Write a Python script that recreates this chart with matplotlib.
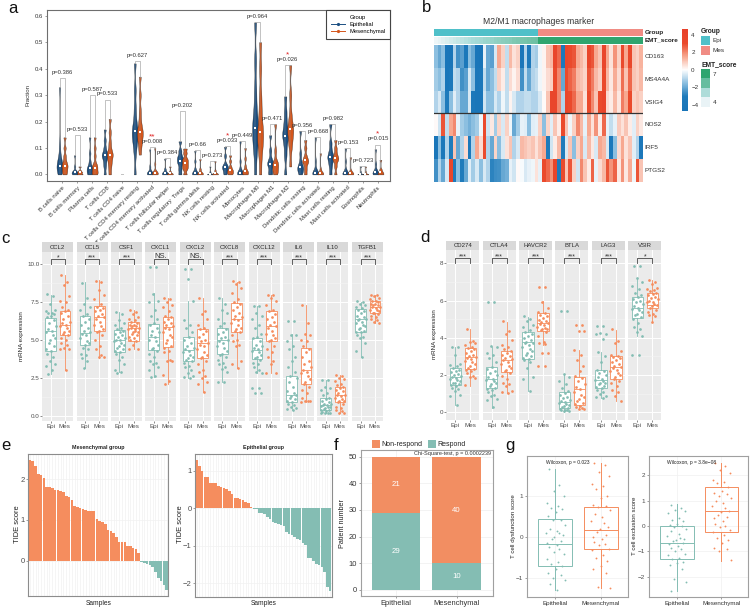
import numpy as np
import matplotlib
matplotlib.use("Agg")
import matplotlib.pyplot as plt
from matplotlib.colors import LinearSegmentedColormap, Normalize, ListedColormap
from matplotlib.lines import Line2D
from matplotlib.patches import Rectangle

plt.rcParams['font.family'] = ['Liberation Sans', 'DejaVu Sans']

W, H = 750, 609
TEAL = '#84bdb3'
ORANGE = '#f58d5e'

# ---- panel a data
cell_types = ['B cells naive', 'B cells memory', 'Plasma cells', 'T cells CD8', 'T cells CD4 naive',
              'T cells CD4 memory resting', 'T cells CD4 memory activated', 'T cells follicular helper',
              'T cells regulatory  Tregs', 'T cells gamma delta', 'NK cells resting', 'NK cells activated',
              'Monocytes', 'Macrophages M0', 'Macrophages M1', 'Macrophages M2', 'Dendritic cells resting',
              'Dendritic cells activated', 'Mast cells resting', 'Mast cells activated', 'Eosinophils', 'Neutrophils']
a_epi = [[0, .01, .02, .03, .03, .04, .05, .07, .11, .33], [0, 0, .005, .008, .01, .015, .03, .072], [0, .005, .01, .02, .025, .03, .05, .08, .14],
         [0, .03, .05, .07, .07, .08, .1, .13, .17], [0, 0, 0, 0], [0, .08, .12, .14, .16, .17, .2, .25, .32, .42],
         [0, 0, .003, .005, .008, .012, .03, .095], [0, 0, .004, .006, .01, .02, .06], [0, .02, .04, .05, .06, .07, .09, .125],
         [0, 0, .003, .005, .01, .02, .05, .09], [0, 0, 0, 0, .002, .01, .03], [0, .01, .02, .027, .03, .04, .07, .105],
         [0, 0, .003, .005, .01, .02, .05, .125], [0, .08, .12, .15, .18, .2, .25, .32, .43, .575], [0, .01, .03, .04, .045, .06, .09, .148],
         [0, .07, .11, .14, .15, .17, .2, .24, .295], [0, .01, .02, .028, .03, .05, .08, .165], [0, 0, .003, .005, .01, .02, .05, .14],
         [0, .03, .05, .065, .07, .09, .12, .19], [0, 0, .003, .005, .01, .02, .05, .098], [0, 0, 0, 0, .001, .01, .03], [0, 0, .004, .008, .012, .02, .04, .095]]
a_mes = [[0, .01, .02, .033, .035, .05, .07, .1, .14], [0, 0, .004, .008, .01, .015, .03], [0, .005, .01, .025, .03, .04, .07, .1, .14],
         [0, .03, .05, .07, .075, .09, .12, .16, .21], [0, 0, 0, 0], [.075, .11, .13, .15, .16, .17, .2, .24, .3, .37],
         [0, 0, .003, .005, .008, .012, .04, .1], [0, 0, .002, .004, .006, .012, .03], [0, .02, .03, .04, .05, .06, .08, .098],
         [0, 0, .003, .005, .01, .02, .058], [0, 0, 0, .002, .005, .015, .05], [0, .005, .01, .015, .02, .03, .05, .072],
         [0, .002, .006, .012, .015, .03, .06, .1], [0, .07, .11, .14, .16, .19, .24, .3, .4, .5], [0, .01, .02, .035, .04, .05, .09, .19],
         [.03, .1, .13, .16, .17, .19, .23, .3, .413], [0, .02, .04, .05, .055, .07, .1, .13], [0, 0, .003, .005, .008, .02, .08],
         [0, .03, .05, .06, .065, .08, .1, .13], [0, 0, .003, .005, .008, .015, .065], [0, 0, 0, 0, .002, .01, .03], [0, 0, .004, .008, .012, .02, .055]]
a_med_epi = [.032, .008, .025, .072, 0, .163, .005, .005, .052, .005, .002, .027, .005, .175, .04, .145, .028, .005, .065, .005, .001, .008]
a_med_mes = [.033, .008, .025, .072, 0, .16, .005, .005, .042, .005, .005, .015, .012, .16, .035, .17, .055, .005, .062, .005, .002, .008]
a_bracket = [.365, .15, .30, .283, .002, .428, .102, .062, .24, .092, .05, .106, .125, .575, .19, .413, .165, .14, .19, .098, .03, .113]
a_pvals = ['p=0.386', 'p=0.533', 'p=0.587', 'p=0.533', '', 'p=0.627', 'p=0.008', 'p=0.384', 'p=0.202', 'p=0.66', 'p=0.273', 'p=0.033',
           'p=0.449', 'p=0.964', 'p=0.471', 'p=0.026', 'p=0.356', 'p=0.668', 'p=0.982', 'p=0.153', 'p=0.723', 'p=0.015']
a_stars = ['', '', '', '', '', '', '**', '', '', '', '', '*', '', '', '', '*', '', '', '', '', '', '*']

# ---- panel b data
heat_genes = ['CD163', 'MS4A4A', 'VSIG4', 'NOS2', 'IRF5', 'PTGS2']
heat_cd163 = [-1.5, -2, -1.5, -4, -4.3, -1, -2.5, -2.2, -3.5, -1.5, -2, -4, -4.3, -.3, -2, -2.2, -.5, 1.5, .8, -.8, 1.2, .5, .8, -4, -1, -3.5, -1, -1.2,
              -.2, .2, 1, 1.2, 3.5, 2.5, -3.5, 3.5, 3, 2.8, 1.5, 1.2, .8, 3.5, 2.8, 1.5, 1, 3.8, 1.5, .5, 1.8, .8, 3, 1.5, 3.2, 1, .8, 1.3]
heat_ms4a4a = [-1.2, -1.5, -1, -4, -3.5, -.8, -1, -2.5, -2.2, -.5, -1.5, -3.8, -3.5, -.8, -2, -1.5, -.8, .8, .3, -.8, .6, .2, .6, -2.5, -.8, -2, -1, -.8,
               -.2, .2, .6, .8, 3, 2, -2, 3, 2.6, 2.2, 1.2, 1, .7, 2.8, 2.2, 1.2, .8, 3, 1.2, .4, 1.4, .6, 2.4, 1, 2.5, 1, .8, 1.2]
heat_vsig4 = [-1, -.5, -1.5, -3, -1.5, -.4, -1, -2, -2, -.5, -3.5, -4, -4, -.6, -1.5, -1.5, -.5, -1, -.2, -.8, .2, -.5, -1, -1, -.8, -.8, -1, -1,
              -.5, .1, 1, 3.5, 3.5, 2, -1, 3.5, 3, 2.5, 1.5, 1.5, .5, 3, 2, 1, 3, 3.8, .6, .3, 1.2, .4, 2.2, 1.5, 3, .8, 1, .8]
heat_nos2 = [.1, -.6, 2.8, -.8, 1.5, 2, -.3, -1.2, -1.5, -1.8, -1.5, -1.2, -.2, 3, -.6, .4, -1.2, .7, -.5, .8, -.2, -2, -1.2, -.3, -.4, -1.5, -.4, -.3,
             .8, -1.5, .7, -.4, 1, .3, 3, 1, -.2, .8, 2, 1.2, -.3, 1.5, .5, 1.8, .3, 2.5, -.3, -.8, -.3, .9, .5, 1, .3, -.4, .8, .4]
heat_irf5 = [-4, -1.5, -3.5, -1, -3, 1, -2, -1, .6, -3.5, -1, 1.5, .6, 3, -1, -2, .7, -1.5, -.5, .5, 1, -1, -.5, 1.2, 1, .8, 1, .5,
             1, 1.5, -3, -.6, .3, 1.2, -3, -.5, 1, -1.5, .8, 1.5, -.5, 1.2, .4, -.5, 1.5, 1.2, -.5, -3.5, -1.5, .6, 1.5, .5, 1, -.4, -1, -3.5]
heat_ptgs2 = [-2.5, -1, -2, -.5, 3.5, -3, -1.5, -3, -2, -.4, -1.2, -.5, -1.5, -.5, -1, -2.8, -2.6, -2.5, -2, -1.8, -.3, -.6, .1, -.1, -.5, -.3, -.2, .5,
              -.3, 3, 2.5, 1.8, 3.5, -3, 3, 1, 2.8, .8, -.6, 2, 1, .3, 2.6, -.3, .6, 1.2, 2.8, 1.8, 2.6, .4, 1.8, .4, 1.4, -.2, 2.8, 1]
emt_score = [4, 4.1, 4.2, 4.3, 4.4, 4.5, 4.6, 4.7, 4.8, 4.9, 5, 5.05, 5.1, 5.2, 5.25, 5.3, 5.4, 5.45, 5.5, 5.55, 5.6, 5.7, 5.75, 5.8, 5.85, 5.9, 5.95, 6,
             7, 7, 7, 7, 7, 7, 7, 7, 7, 7, 7, 7, 7, 7, 7, 7, 7, 7, 7, 7, 7, 7, 7, 7, 7, 7, 7, 7]
group_code = [0] * 28 + [1] * 28

# ---- panel c data: box stats are low whisker, q1, median, q3, high whisker
c_genes = ['CCL2', 'CCL5', 'CSF1', 'CXCL1', 'CXCL2', 'CXCL8', 'CXCL12', 'IL6', 'IL10', 'TGFB1']
c_sig = ['*', '***', '***', 'NS.', 'NS.', '***', '***', '***', '***', '***']
c_box_epi = [[2.75, 4.27, 5.6, 6.43, 8.0], [3.13, 4.67, 5.44, 6.58, 8.8], [2.9, 4.23, 5.0, 5.66, 6.83], [2.58, 4.34, 5.2, 6.06, 8.08], [2.5, 3.6, 4.34, 5.18, 7.6],
             [2.2, 4.05, 5.0, 5.77, 7.75], [2.84, 3.74, 4.34, 5.15, 7.25], [.37, .93, 1.37, 2.64, 5.37], [.15, .37, .7, 1.15, 2.35], [3.85, 5.55, 6.39, 7.05, 7.53]]
c_box_mes = [[3.0, 5.33, 6.0, 6.9, 9.3], [3.83, 5.6, 6.54, 7.25, 8.96], [4.4, 4.93, 5.77, 6.2, 7.0], [2.07, 4.56, 5.88, 6.54, 7.8], [1.54, 3.83, 4.78, 5.73, 7.75],
             [3.13, 5.5, 6.39, 7.42, 8.85], [2.84, 4.96, 5.95, 6.9, 8.0], [.93, 2.07, 3.0, 4.45, 7.3], [.15, .93, 1.37, 1.9, 2.7], [6.15, 6.76, 7.2, 7.58, 8.0]]
c_pts_epi = [
    [8.05, 7.9, 7.4, 7.0, 6.9, 6.8, 6.8, 6.7, 6.6, 6.5, 6.3, 6.1, 5.9, 5.7, 5.6, 5.5, 5.3, 5.1, 5.0, 4.8, 4.6, 4.4, 4.3, 4.1, 3.9, 3.6, 3.4, 3.3, 3.0, 2.75],
    [8.75, 7.75, 7.4, 7.2, 7.0, 6.7, 6.6, 6.4, 6.2, 6.0, 5.8, 5.6, 5.5, 5.4, 5.3, 5.1, 4.9, 4.8, 4.7, 4.5, 4.4, 4.1, 4.0, 3.8, 3.6, 3.15],
    [6.85, 6.7, 6.3, 6.1, 6.0, 5.8, 5.7, 5.6, 5.5, 5.4, 5.3, 5.2, 5.1, 5.0, 5.0, 4.9, 4.8, 4.7, 4.6, 4.5, 4.4, 4.3, 4.2, 4.1, 3.9, 3.7, 3.4, 3.0, 2.9, 2.85],
    [9.8, 9.8, 8.05, 7.6, 7.5, 7.0, 6.6, 6.4, 6.1, 6.0, 5.8, 5.6, 5.5, 5.3, 5.2, 5.0, 4.9, 4.7, 4.5, 4.4, 4.3, 4.1, 3.9, 3.6, 3.5, 3.4, 3.2, 3.0, 2.6, 2.55],
    [9.7, 9.7, 9.0, 7.6, 6.3, 6.0, 5.8, 5.5, 5.2, 5.0, 4.8, 4.6, 4.5, 4.4, 4.3, 4.2, 4.0, 3.9, 3.8, 3.7, 3.6, 3.5, 3.3, 3.2, 3.0, 2.8, 2.6, 2.55, 2.5],
    [7.75, 7.4, 7.0, 6.8, 6.4, 6.1, 5.9, 5.7, 5.5, 5.4, 5.2, 5.1, 5.0, 4.9, 4.8, 4.6, 4.5, 4.3, 4.1, 4.0, 3.9, 3.7, 3.5, 3.4, 3.2, 3.1, 2.9, 2.2, 2.2],
    [7.25, 7.25, 6.8, 6.6, 6.4, 6.0, 5.8, 5.4, 5.2, 5.1, 4.9, 4.7, 4.6, 4.5, 4.4, 4.3, 4.2, 4.0, 3.9, 3.8, 3.7, 3.5, 3.4, 3.2, 3.0, 2.9, 2.85, 1.8, 1.8, 1.5, 1.5],
    [6.25, 6.25, 5.35, 5.35, 4.9, 4.6, 4.4, 3.9, 3.6, 3.2, 2.9, 2.6, 2.5, 2.2, 1.9, 1.6, 1.5, 1.4, 1.3, 1.2, 1.1, 1.0, .9, .8, .7, .6, .5, .45, .4],
    [2.35, 2.35, 1.9, 1.8, 1.7, 1.5, 1.4, 1.2, 1.1, 1.0, .9, .8, .75, .7, .7, .65, .6, .55, .5, .45, .4, .35, .3, .25, .2, .2, .15, .15],
    [7.6, 7.5, 7.4, 7.3, 7.2, 7.1, 7.0, 6.9, 6.8, 6.6, 6.5, 6.4, 6.4, 6.3, 6.2, 6.1, 6.0, 5.9, 5.8, 5.7, 5.6, 5.5, 5.5, 5.3, 5.2, 5.1, 4.8, 4.3, 3.85]]
c_pts_mes = [
    [9.3, 8.8, 8.6, 7.9, 7.6, 7.5, 7.2, 7.0, 6.9, 6.8, 6.6, 6.4, 6.2, 6.1, 6.0, 5.9, 5.8, 5.6, 5.5, 5.4, 5.3, 5.1, 5.0, 4.8, 4.7, 4.5, 4.4, 4.4, 3.05],
    [8.9, 8.85, 8.3, 8.0, 7.7, 7.4, 7.2, 7.1, 7.0, 6.9, 6.7, 6.6, 6.5, 6.4, 6.2, 6.0, 5.9, 5.7, 5.6, 5.5, 5.3, 5.0, 4.6, 4.4, 4.0, 3.9, 3.85],
    [7.0, 6.85, 6.7, 6.5, 6.4, 6.3, 6.2, 6.1, 6.0, 6.0, 5.9, 5.9, 5.8, 5.8, 5.7, 5.7, 5.6, 5.5, 5.5, 5.4, 5.3, 5.2, 5.1, 5.0, 4.9, 4.7, 4.4, 4.4],
    [7.8, 7.7, 7.5, 7.3, 7.2, 6.9, 6.6, 6.5, 6.4, 6.2, 6.1, 6.0, 5.9, 5.8, 5.7, 5.5, 5.3, 5.2, 5.0, 4.8, 4.6, 4.5, 4.3, 4.2, 3.7, 3.6, 3.6, 2.7, 2.3, 2.1],
    [7.75, 6.9, 6.7, 6.4, 6.0, 5.8, 5.7, 5.6, 5.4, 5.2, 5.0, 4.9, 4.8, 4.7, 4.6, 4.4, 4.2, 4.0, 3.9, 3.8, 3.6, 3.4, 3.0, 2.9, 2.6, 2.5, 2.2, 2.1, 1.55],
    [8.9, 8.8, 8.7, 8.4, 8.1, 7.7, 7.5, 7.4, 7.2, 7.0, 6.8, 6.6, 6.5, 6.4, 6.3, 6.1, 6.0, 5.8, 5.7, 5.6, 5.5, 5.3, 5.0, 4.9, 4.7, 4.6, 3.6, 3.4, 3.15],
    [8.0, 8.0, 7.8, 7.6, 7.3, 7.0, 6.9, 6.7, 6.5, 6.4, 6.2, 6.0, 5.9, 5.8, 5.6, 5.4, 5.3, 5.1, 5.0, 4.9, 4.6, 4.4, 4.2, 3.9, 3.6, 3.4, 2.85, 2.85],
    [7.3, 6.1, 5.4, 5.3, 5.0, 4.9, 4.6, 4.4, 4.2, 3.9, 3.6, 3.4, 3.2, 3.0, 2.9, 2.8, 2.6, 2.4, 2.2, 2.1, 1.9, 1.7, 1.5, 1.2, 1.0, .95, .95, .9],
    [2.7, 2.65, 2.5, 2.4, 2.3, 2.1, 2.0, 1.9, 1.8, 1.7, 1.6, 1.5, 1.4, 1.35, 1.3, 1.2, 1.1, 1.0, .95, .9, .8, .6, .5, .4, .3, .2, .15],
    [8.0, 7.95, 7.9, 7.8, 7.7, 7.6, 7.6, 7.5, 7.4, 7.4, 7.3, 7.3, 7.2, 7.2, 7.1, 7.0, 7.0, 6.9, 6.8, 6.8, 6.7, 6.6, 6.5, 6.4, 6.3, 6.2, 6.15]]

# ---- panel d data
d_genes = ['CD274', 'CTLA4', 'HAVCR2', 'BTLA', 'LAG3', 'VSIR']
d_sig = ['***', '***', '***', '***', '***', '*']
d_box_epi = [[.39, 1.47, 1.91, 2.4, 3.52], [.25, 1.29, 1.79, 2.45, 3.52], [1.16, 2.84, 3.76, 4.33, 5.13], [.04, .25, .57, 1.11, 2.04], [.75, 1.32, 1.74, 2.27, 3.26], [4.11, 5.04, 5.62, 6.21, 7.19]]
d_box_mes = [[1.43, 2.33, 2.99, 3.43, 4.5], [1.02, 2.18, 2.81, 3.29, 4.87], [3.61, 4.38, 4.78, 5.31, 5.98], [.18, .39, 1.25, 1.91, 3.35], [.61, 1.79, 2.45, 3.02, 4.42], [4.87, 5.58, 5.76, 6.39, 7.1]]
d_pts_epi = [
    [3.5, 3.5, 3.1, 2.6, 2.55, 2.5, 2.4, 2.3, 2.2, 2.15, 2.05, 2, 1.95, 1.9, 1.85, 1.8, 1.75, 1.7, 1.6, 1.55, 1.5, 1.45, 1.4, 1.3, 1.25, 1.15, .95, .9, .4],
    [5.9, 5.9, 3.55, 3.5, 3.2, 3.1, 2.9, 2.7, 2.45, 2.35, 2.2, 2.1, 2, 1.9, 1.8, 1.75, 1.7, 1.6, 1.5, 1.4, 1.3, 1.25, 1.2, 1.1, .95, .9, .7, .65, .3],
    [5.15, 5.0, 4.9, 4.7, 4.6, 4.4, 4.3, 4.2, 4.1, 4, 3.9, 3.8, 3.75, 3.7, 3.6, 3.5, 3.4, 3.3, 3.2, 3.1, 3, 2.9, 2.85, 2.8, 2.7, 2.4, 1.9, 1.8, 1.15],
    [5.45, 5.45, 2.05, 1.9, 1.7, 1.5, 1.3, 1.15, 1.05, .95, .85, .75, .65, .6, .55, .5, .45, .4, .35, .3, .25, .2, .15, .12, .1, .08, .05],
    [4.63, 4.62, 4.25, 4.22, 4.2, 3.95, 3.25, 3.0, 2.7, 2.3, 2.2, 2.1, 2, 1.9, 1.8, 1.75, 1.7, 1.6, 1.55, 1.5, 1.4, 1.35, 1.3, 1.2, 1.1, 1, .9, .85, .75],
    [7.85, 7.85, 7.2, 7, 6.8, 6.6, 6.4, 6.3, 6.2, 6.1, 6, 5.9, 5.8, 5.7, 5.6, 5.55, 5.5, 5.4, 5.3, 5.2, 5.1, 5, 4.8, 4.6, 4.5, 4.3, 4.1, 3.08, 3.08]]
d_pts_mes = [
    [4.45, 3.85, 3.8, 3.7, 3.6, 3.5, 3.45, 3.4, 3.3, 3.2, 3.1, 3, 2.95, 2.9, 2.85, 2.75, 2.7, 2.6, 2.5, 2.4, 2.35, 2.3, 2.2, 2.1, 1.95, 1.9, 1.85, 1.45],
    [4.9, 4.35, 4.2, 3.9, 3.6, 3.5, 3.4, 3.3, 3.2, 3.1, 3, 2.9, 2.85, 2.8, 2.7, 2.6, 2.5, 2.4, 2.3, 2.2, 2.1, 1.95, 1.8, 1.6, 1.5, 1.4, 1.15, 1.1, 1.05],
    [6.75, 6.75, 5.95, 5.6, 5.4, 5.35, 5.25, 5.15, 5.05, 4.95, 4.9, 4.85, 4.8, 4.75, 4.7, 4.6, 4.55, 4.5, 4.45, 4.4, 4.3, 4.1, 3.8, 3.7, 3.65, 3.2, 3.2, 2.5, 2.5],
    [4.7, 4.68, 4.38, 4.36, 3.35, 3.1, 2.8, 2.5, 2.2, 1.95, 1.85, 1.7, 1.5, 1.35, 1.25, 1.1, .95, .85, .7, .6, .5, .45, .35, .3, .25, .2, .18],
    [4.45, 3.85, 3.7, 3.3, 3.1, 3, 2.95, 2.9, 2.8, 2.7, 2.6, 2.5, 2.45, 2.4, 2.3, 2.2, 2.1, 2, 1.9, 1.8, 1.7, 1.55, 1.4, 1.2, 1.1, .9, .6],
    [7.1, 7, 6.9, 6.7, 6.6, 6.55, 6.5, 6.4, 6.35, 6.3, 6.2, 6.15, 6.1, 6, 5.95, 5.9, 5.8, 5.75, 5.7, 5.6, 5.5, 5.4, 5.3, 5.2, 5.15, 4.85]]

# ---- panel e data
tide_mes = [2.48, 2.46, 2.33, 2.13, 2.11, 2.02, 1.81, 1.80, 1.78, 1.73, 1.73, 1.72, 1.69, 1.58, 1.56, 1.49, 1.35, 1.31, 1.30, 1.27, 1.24, 1.23, 1.22, 1.21, 1.02,
            0.98, 0.95, 0.91, 0.75, 0.73, 0.68, 0.58, 0.47, 0.47, 0.46, 0.36, 0.35, 0.31, 0.28, 0.18, -.02, -.05, -.07, -.11, -.16, -.28, -.42, -.50, -.60, -.73]
tide_epi = [1.28, 1.13, .98, .84, .83, .67, .67, .67, .59, .57, .53, .50, .46, .38, .28, .28, .25, .22, .16, .15, .03,
            -.01, -.02, -.12, -.13, -.15, -.23, -.30, -.36, -.40, -.42, -.46, -.48, -.63, -.68, -.72, -.78, -.82, -.85, -.92, -.98, -1.32, -1.33, -1.40, -1.48, -1.50, -1.57, -1.69, -2.10, -2.20]

# ---- panel f data
f_groups = ['Epithelial', 'Mesenchymal']
f_respond = [29, 10]
f_nonrespond = [21, 40]

# ---- panel g data
g_groups = ['Epithelial', 'Mesenchymal']
dys_box = [[-1.3, -.71, -.19, .43, 1.65], [-1.26, -.31, .16, .73, 1.8]]
exc_box = [[-2.55, -1.31, -.65, 0, .87], [-1.36, -.22, .59, 1.55, 2.5]]
dys_epi = [1.65, 1.28, 1.13, 1.0, .82, .75, .7, .67, .6, .5, .42, .4, .3, .2, .15, .1, .08, .05, 0, -.05, -.1, -.15, -.2, -.25, -.3, -.38, -.42, -.55, -.62, -.68, -.72, -.8, -.9, -.95, -1, -1.05, -1.15, -1.3]
dys_mes = [1.8, 1.75, 1.58, 1.5, 1.3, 1.25, 1.18, 1, .95, .78, .75, .72, .65, .55, .48, .38, .33, .25, .2, .12, .05, 0, -.05, -.12, -.18, -.2, -.3, -.32, -.45, -.52, -.6, -.72, -.8, -.9, -1.22, -1.25]
exc_epi = [.85, .7, .65, .6, .5, .3, .25, .2, .1, .05, 0, -.05, -.1, -.2, -.3, -.4, -.45, -.5, -.55, -.6, -.65, -.7, -.8, -.85, -.9, -1, -1.1, -1.15, -1.25, -1.3, -1.4, -1.45, -1.55, -1.7, -2.1, -2.2, -2.55]
exc_mes = [2.5, 2.35, 2.2, 2.1, 1.8, 1.75, 1.7, 1.55, 1.4, 1.3, 1.25, 1.2, 1.1, 1, .9, .8, .7, .6, .55, .45, .35, .3, .2, .1, 0, -.05, -.15, -.25, -.35, -.45, -.55, -.65, -.85, -.9, -1, -1.35]

# sideways spread of the dots, fixed so each run gives the same picture
JITTER = [-.62, .41, -.13, .83, -.88, .27, -.45, .66, .05, -.72, .52, -.28, .94, -.55, .18, -.95, .35, .74, -.09, -.36, .59, -.79, .12]


def panel(x0, y0, x1, y1):  # axes from pixel box, y measured from the top
    return fig.add_axes([x0 / W, 1 - y1 / H, (x1 - x0) / W, (y1 - y0) / H])


def ftext(x, y, s, **kw):
    kw.setdefault('va', 'center')
    fig.text(x / W, 1 - y / H, s, **kw)


def make_stats(box):
    return {'whislo': box[0], 'q1': box[1], 'med': box[2], 'q3': box[3], 'whishi': box[4], 'fliers': []}


def draw_box(ax, pos, box, pts, col, spread, dot, fill='white', lw=.6):
    ax.bxp([make_stats(box)], positions=[pos], widths=.75, patch_artist=True, showfliers=False, showcaps=False, manage_ticks=False,
           boxprops=dict(facecolor=fill, edgecolor=col, linewidth=lw), medianprops=dict(color=col, linewidth=lw),
           whiskerprops=dict(color=col, linewidth=lw), zorder=2)
    xs = [pos + JITTER[i % len(JITTER)] * spread for i in range(len(pts))]
    ax.scatter(xs, pts, s=dot, color=col, linewidths=0, zorder=3)


def facet_row(genes, sig, box_epi, box_mes, pts_epi, pts_mes, lefts, width, ytop, strip_h, ybot, ylim, yticks, ylabels, minor, br):
    for i, g in enumerate(genes):
        x0 = lefts[i]
        strip = panel(x0, ytop, x0 + width, ytop + strip_h)
        strip.set_facecolor('#d9d9d9')
        strip.set_xticks([])
        strip.set_yticks([])
        for s in strip.spines.values():
            s.set_visible(False)
        strip.text(.5, .5, g, transform=strip.transAxes, ha='center', va='center', fontsize=4.3, color='#2a2a2a')

        ax = panel(x0, ytop + strip_h, x0 + width, ybot)
        ax.set_facecolor('#ebebeb')
        for s in ax.spines.values():
            s.set_visible(False)
        ax.set_xlim(.4, 2.6)
        ax.set_ylim(*ylim)
        ax.set_axisbelow(True)
        ax.set_yticks(minor, minor=True)
        ax.grid(which='major', color='white', lw=.7)
        ax.grid(which='minor', axis='y', color='#f5f5f5', lw=.4)
        ax.tick_params(which='minor', length=0)
        draw_box(ax, 1, box_epi[i], pts_epi[i], TEAL, .39, 3.8)
        draw_box(ax, 2, box_mes[i], pts_mes[i], ORANGE, .39, 3.8)
        ax.plot([1, 1, 2, 2], [br[0], br[1], br[1], br[0]], color='#444444', lw=.6, zorder=4)
        if sig[i] == 'NS.':
            ax.text(1.5, br[1] - .004 * (ylim[1] - ylim[0]), sig[i], ha='center', va='bottom', fontsize=5.5, color='#333333')
        else:
            ax.text(1.5, br[1] - .012 * (ylim[1] - ylim[0]), sig[i], ha='center', va='bottom', fontsize=5, color='#333333')
        ax.set_xticks([1, 2])
        ax.set_xticklabels(['Epi', 'Mes'], fontsize=4.5, color='#4d4d4d')
        ax.set_yticks(yticks)
        if i == 0:
            ax.set_yticklabels(ylabels, fontsize=4.5, color='#4d4d4d')
            ax.tick_params(axis='y', length=1.3, width=.4, color='#333333', pad=.8)
        else:
            ax.set_yticklabels([])
            ax.tick_params(axis='y', length=0)
        ax.tick_params(axis='x', length=1.3, width=.4, color='#333333', pad=1.2)


def bw_axes(ax, col='#8c8c8c', lw=.8):
    for s in ax.spines.values():
        s.set_color(col)
        s.set_linewidth(lw)


fig = plt.figure(figsize=(W / 100, H / 100), dpi=100)

# panel letters
for s, x, y in [('a', 8, 13), ('b', 422, 12), ('c', 1, 243), ('d', 420, 242), ('e', 1, 450), ('f', 334, 450), ('g', 505, 450)]:
    ftext(x, y, s, fontsize=12, va='baseline', color='#111111')

# ---- a
ax = panel(47, 10, 390, 181)
ax.set_xlim(-1, 21.8)
ax.set_ylim(-.025, .622)
for side, vals, meds, col, off in [('epi', a_epi, a_med_epi, '#1b4f82', -.167), ('mes', a_mes, a_med_mes, '#d4561c', .167)]:
    pos = [i + off for i in range(len(cell_types))]
    for i, v in enumerate(vals):
        if max(v) == 0:
            continue
        parts = ax.violinplot([v], positions=[pos[i]], widths=.4, showextrema=False, bw_method=.22, points=120)
        for b in parts['bodies']:
            b.set_facecolor(col)
            b.set_edgecolor('#222222')
            b.set_linewidth(.25)
            b.set_alpha(1)
        ax.vlines(pos[i], min(v), max(v), color='#999999', lw=.3, zorder=1)
    ax.scatter(pos, meds, s=3, marker='s', color='white', linewidths=0, zorder=5)
for i, top in enumerate(a_bracket):
    ax.plot([i - .167, i - .167, i + .167, i + .167], [max(a_epi[i]), top, top, max(a_mes[i])], color='#a0a0a0', lw=.45, zorder=1)
    ax.text(i, top + .012, a_pvals[i], ha='center', va='bottom', fontsize=4.2, color='#333333', zorder=6)
    if a_stars[i]:
        ax.text(i, top + .026, a_stars[i], ha='center', va='bottom', fontsize=6, color='#e02020', zorder=6)
ax.set_xticks(range(len(cell_types)))
ax.set_xticklabels(cell_types, rotation=45, ha='right', rotation_mode='anchor', fontsize=4.3, color='#333333')
ax.set_yticks([0, .1, .2, .3, .4, .5, .6])
ax.set_yticklabels(['0.0', '0.1', '0.2', '0.3', '0.4', '0.5', '0.6'], fontsize=4.3, color='#333333')
ax.tick_params(length=1.5, width=.4, color='#555555', pad=1.5)
ax.set_ylabel('Fraction', fontsize=4.4, color='#333333', labelpad=3)
bw_axes(ax, '#6e6e6e', .8)
handles = [Line2D([0], [0], color='#1b4f82', lw=.7, marker='o', ms=1.3), Line2D([0], [0], color='#d4561c', lw=.7, marker='o', ms=1.3)]
leg = ax.legend(handles, ['Epithelial', 'Mesenchymal'], title='Group', loc='upper right', fontsize=4.2, title_fontsize=4.2,
                fancybox=False, edgecolor='#444444', framealpha=1, borderaxespad=0, handlelength=2.4, labelspacing=.35, borderpad=.8)
leg.get_frame().set_linewidth(.8)

# ---- b
mat = np.array([heat_cd163, heat_ms4a4a, heat_vsig4, heat_nos2, heat_irf5, heat_ptgs2])
heat_cmap = LinearSegmentedColormap.from_list('heat', [(0, '#1874b8'), (.18, '#1f7bbb'), (.34, '#8cbfe0'), (.5, '#ffffff'),
                                                       (.66, '#f7a890'), (.82, '#ea4a2c'), (1, '#e8402a')])
norm = Normalize(-4.7, 4.7)
ax = panel(434, 44.7, 642.7, 181.7)
im = ax.imshow(mat, aspect='auto', cmap=heat_cmap, norm=norm, interpolation='nearest')
ax.axhline(2.5, color='#333333', lw=.9)
ax.axis('off')

ax = panel(434, 29, 642.7, 35.7)
ax.imshow([group_code], aspect='auto', cmap=ListedColormap(['#4fc0c9', '#f08c84']), interpolation='nearest')
ax.axis('off')
emt_cmap = LinearSegmentedColormap.from_list('emt', ['#eef6f8', '#a8dcd9', '#6dc0a3', '#2fa56f'])
ax = panel(434, 36.7, 642.7, 43.7)
ax.imshow([emt_score], aspect='auto', cmap=emt_cmap, vmin=4, vmax=7, interpolation='nearest')
ax.axis('off')

ftext(539, 21.6, 'M2/M1 macrophages marker', fontsize=6.2, ha='center', color='#333333')
ftext(644.7, 32.7, 'Group', fontsize=4.6, fontweight='bold', color='#222222')
ftext(644.7, 40.3, 'EMT_score', fontsize=4.6, fontweight='bold', color='#222222')
for g, y in zip(heat_genes, [56.7, 79.3, 102, 125, 147.7, 170.7]):
    ftext(644.7, y, g, fontsize=4.6, color='#333333')

cax = panel(682, 28.7, 687.7, 111)
cb = fig.colorbar(im, cax=cax, ticks=[-4, -2, 0, 2, 4])
cb.set_ticklabels(['−4', '−2', '0', '2', '4'])
cb.ax.tick_params(labelsize=4.5, length=0, pad=2.5, labelcolor='#333333')
cb.outline.set_visible(False)

ftext(701, 31.5, 'Group', fontsize=4.8, fontweight='bold', color='#222222')
leg_ax = panel(701, 36, 710, 107)
leg_ax.set_xlim(0, 1)
leg_ax.set_ylim(107, 36)
leg_ax.axis('off')
leg_ax.add_patch(Rectangle((0, 36), 1, 9, color='#4fc0c9', lw=0))
leg_ax.add_patch(Rectangle((0, 45.7), 1, 9, color='#f08c84', lw=0))
for y, c in zip([69, 78.4, 87.8, 97.2], ['#2fa56f', '#66bd9f', '#aedcd9', '#e9f3f6']):
    leg_ax.add_patch(Rectangle((0, y), 1, 9.4, color=c, lw=0))
ftext(712.7, 40.5, 'Epi', fontsize=4.6, color='#333333')
ftext(712.7, 50.2, 'Mes', fontsize=4.6, color='#333333')
ftext(701, 64.3, 'EMT_score', fontsize=4.8, fontweight='bold', color='#222222')
ftext(712.7, 74, '7', fontsize=4.6, color='#333333')
ftext(712.7, 102.3, '4', fontsize=4.6, color='#333333')

# ---- c
c_lefts = [42.3, 76.7, 111, 145.3, 180, 214, 248.7, 283.3, 317.3, 352.3]
facet_row(c_genes, c_sig, c_box_epi, c_box_mes, c_pts_epi, c_pts_mes, c_lefts, 31, 242.3, 10, 420.7, (-.33, 10.79),
          [0, 2.5, 5, 7.5, 10], ['0.0', '2.5', '5.0', '7.5', '10.0'], [1.25, 3.75, 6.25, 8.75], (10.0, 10.33))
ftext(21.5, 336, 'mRNA expression', fontsize=4.5, rotation=90, ha='center', color='#222222')

# ---- d
d_lefts = [446.3, 482.7, 519, 555.3, 592, 628.3]
facet_row(d_genes, d_sig, d_box_epi, d_box_mes, d_pts_epi, d_pts_mes, d_lefts, 33, 241, 9.3, 420, (-.41, 8.7),
          [0, 2, 4, 6, 8], ['0', '2', '4', '6', '8'], [1, 3, 5, 7], (8.0, 8.27))
ftext(434.5, 334, 'mRNA expression', fontsize=4.5, rotation=90, ha='center', color='#222222')

# ---- e
for vals, box, title, ylim, yticks, ylabs, lx in [
        (tide_mes, (28.3, 454, 168.3, 596), 'Mesenchymal group', (-.867, 2.62), [0, 1, 2], ['0', '1', '2'], 17.7),
        (tide_epi, (195, 454, 331.7, 596.5), 'Epithelial group', (-2.35, 1.44), [-2, -1, 0, 1], ['−2', '−1', '0', '1'], 180)]:
    ax = panel(*box)
    xs = np.arange(1, len(vals) + 1)
    ax.bar(xs, vals, width=.92, color=[ORANGE if v > 0 else TEAL for v in vals], linewidth=0, zorder=2)
    ax.set_xlim(.4, 50.6)
    ax.set_ylim(*ylim)
    ax.set_xticks(xs)
    ax.set_xticklabels([])
    ax.set_yticks(yticks)
    ax.set_yticklabels(ylabs, fontsize=5.5, color='#4d4d4d')
    ax.grid(color='#f2f2f2', lw=.5, zorder=0)
    ax.set_axisbelow(True)
    ax.tick_params(axis='x', length=1, width=.3, color='#555555')
    ax.tick_params(axis='y', length=1.3, width=.4, color='#555555', pad=1)
    bw_axes(ax)
    ftext((box[0] + box[2]) / 2, 447.7, title, fontsize=3.9, fontweight='bold', ha='center', color='#222222')
    ftext((box[0] + box[2]) / 2, 603.5, 'Samples', fontsize=4.8, ha='center', color='#222222')
    ftext(lx, 524, 'TIDE score', fontsize=5.4, rotation=90, ha='center', color='#222222')

# ---- f
ax = panel(360.7, 450, 492.7, 596)
ax.bar([1, 2], f_respond, width=.8, color=TEAL, linewidth=0, zorder=2)
ax.bar([1, 2], f_nonrespond, width=.8, bottom=f_respond, color='#f28e62', linewidth=0, zorder=2)
for i in range(2):
    ax.text(i + 1, f_respond[i] / 2, str(f_respond[i]), ha='center', va='center', color='white', fontsize=5.6, zorder=3)
    ax.text(i + 1, f_respond[i] + f_nonrespond[i] / 2, str(f_nonrespond[i]), ha='center', va='center', color='white', fontsize=5.6, zorder=3)
ax.set_xlim(.41, 2.6)
ax.set_ylim(-2.25, 52.5)
ax.set_xticks([1, 2])
ax.set_xticklabels(f_groups, fontsize=5.4, color='#333333')
ax.set_yticks([0, 10, 20, 30, 40, 50])
ax.set_yticklabels(['0', '10', '20', '30', '40', '50'], fontsize=5.4, color='#333333')
ax.grid(color='#efefef', lw=.5)
ax.set_axisbelow(True)
ax.tick_params(length=1.3, width=.4, color='#555555', pad=1.5)
ax.set_ylabel('Patient number', fontsize=5.2, color='#222222', labelpad=1.5)
bw_axes(ax, '#a0a0a0')
ftext(491, 453, 'Chi-Square-test, p = 0.0002239', fontsize=4, ha='right', color='#333333')
key = panel(372, 440, 436, 448)
key.set_xlim(372, 436)
key.set_ylim(0, 1)
key.axis('off')
key.add_patch(Rectangle((372, 0), 8, 1, color='#f28e62', lw=0))
key.add_patch(Rectangle((428, 0), 8, 1, color=TEAL, lw=0))
ftext(381, 444, 'Non-respond', fontsize=5, color='#222222')
ftext(437, 444, 'Respond', fontsize=5, color='#222222')

# ---- g
for box, ylim, yticks, ylabs, boxes, epi, mes, ylab, lx, note, nx in [
        ((527.3, 456, 627.7, 596.7), (-1.47, 1.98), [-1, 0, 1], ['−1', '0', '1'], dys_box, dys_epi, dys_mes, 'T cell dysfunction score', 513, 'Wilcoxon, p = 0.023', .405),
        ((649, 456, 748.3, 596.7), (-2.78, 2.76), [-2, -1, 0, 1, 2], ['−2', '−1', '0', '1', '2'], exc_box, exc_epi, exc_mes, 'T cell exclusion score', 635, 'Wilcoxon, p = 3.8e−08', .43)]:
    ax = panel(*box)
    ax.set_xlim(.38, 2.6)
    ax.set_ylim(*ylim)
    ax.grid(color='#f0f0f0', lw=.5)
    ax.set_axisbelow(True)
    draw_box(ax, 1, boxes[0], epi, TEAL, .22, 1.8, fill='none', lw=.7)
    draw_box(ax, 2, boxes[1], mes, ORANGE, .22, 1.8, fill='none', lw=.7)
    ax.set_xticks([1, 2])
    ax.set_xticklabels(g_groups, fontsize=4.5, color='#333333')
    ax.set_yticks(yticks)
    ax.set_yticklabels(ylabs, fontsize=4.6, color='#4d4d4d')
    ax.tick_params(length=1.3, width=.4, color='#555555', pad=1.5)
    bw_axes(ax, '#a0a0a0')
    ax.text(nx, .955, note, transform=ax.transAxes, ha='center', va='center', fontsize=3.5, color='#222222')
    ftext(lx, 526, ylab, fontsize=4.4, rotation=90, ha='center', color='#222222')

fig.savefig('out.png', dpi=100)
